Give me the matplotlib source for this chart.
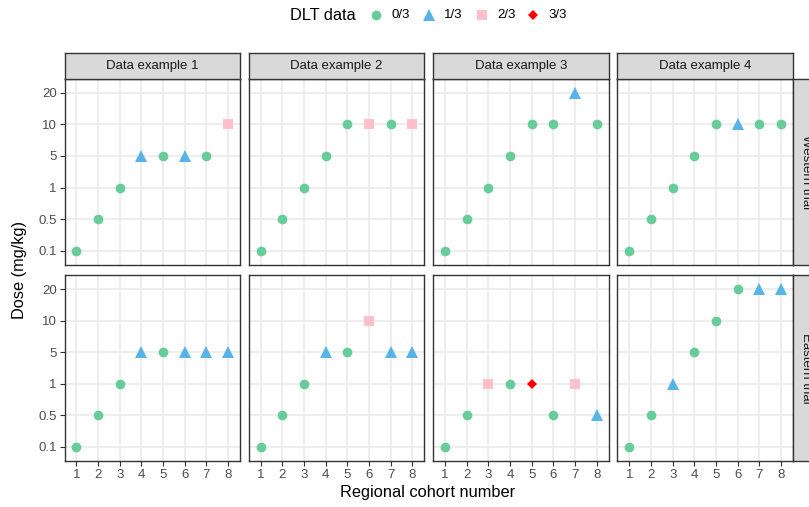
###### DLT dose escalation by regional cohort ########

import numpy as np
import matplotlib.pyplot as plt
from matplotlib.lines import Line2D

plt.rcParams['font.family'] = ['Liberation Sans', 'DejaVu Sans']

# Dose levels are shown as evenly spaced categories
dose_levels = ['0.1', '0.5', '1', '5', '10', '20']
cohorts = [1, 2, 3, 4, 5, 6, 7, 8]
examples = ['Data example 1', 'Data example 2', 'Data example 3', 'Data example 4']
trials = ['Western trial', 'Eastern trial']
dlt_labels = ['0/3', '1/3', '2/3', '3/3']

# Dose given to each cohort (one list per example)
western_dose = [
    ['0.1', '0.5', '1', '5', '5', '5', '5', '10'],
    ['0.1', '0.5', '1', '5', '10', '10', '10', '10'],
    ['0.1', '0.5', '1', '5', '10', '10', '20', '10'],
    ['0.1', '0.5', '1', '5', '10', '10', '10', '10'],
]
eastern_dose = [
    ['0.1', '0.5', '1', '5', '5', '5', '5', '5'],
    ['0.1', '0.5', '1', '5', '5', '10', '5', '5'],
    ['0.1', '0.5', '1', '1', '1', '0.5', '1', '0.5'],
    ['0.1', '0.5', '1', '5', '10', '20', '20', '20'],
]

# Number of DLTs observed out of 3 patients
western_dlt = [
    [0, 0, 0, 1, 0, 1, 0, 2],
    [0, 0, 0, 0, 0, 2, 0, 2],
    [0, 0, 0, 0, 0, 0, 1, 0],
    [0, 0, 0, 0, 0, 1, 0, 0],
]
eastern_dlt = [
    [0, 0, 0, 1, 0, 1, 1, 1],
    [0, 0, 0, 1, 0, 2, 1, 1],
    [0, 0, 2, 0, 3, 0, 2, 1],
    [0, 0, 1, 0, 0, 0, 1, 1],
]

# Marker style for each DLT count
colors = ['#66CC99', '#56B4E9', '#FFC0CB', '#FF0000']
markers = ['o', '^', 's', 'D']
sizes = [7.0, 8.3, 7.0, 5.0]

W, H = 809, 507
fig = plt.figure(figsize=(W / 100, H / 100), dpi=100)

def px_axes(x0, y0, x1, y1, **kw):
    # axes from pixel box (top-left origin)
    return fig.add_axes([x0 / W, 1 - y1 / H, (x1 - x0) / W, (y1 - y0) / H], **kw)

col_left = [64.5, 248.8, 433.1, 617.4]
col_w = 175.5
row_box = [(78.5, 265.0), (275.0, 461.0)]
border = '#333333'
small = 9.5
big = 11.8

for r, (doses, dlts) in enumerate([(western_dose, western_dlt), (eastern_dose, eastern_dlt)]):
    for c in range(4):
        y0, y1 = row_box[r]
        ax = px_axes(col_left[c], y0, col_left[c] + col_w, y1)
        ypos = [dose_levels.index(d) + 1 for d in doses[c]]
        for x, y, k in zip(cohorts, ypos, dlts[c]):
            ax.plot(x, y, marker=markers[k], color=colors[k], markersize=sizes[k],
                    markeredgewidth=0, linestyle='none', zorder=3)
        ax.set_xlim(0.45, 8.55)
        ax.set_ylim(0.54, 6.46)
        ax.set_xticks(cohorts)
        ax.set_yticks(range(1, 7))
        ax.grid(True, color='#EBEBEB', linewidth=1.2)
        ax.set_axisbelow(True)
        for s in ax.spines.values():
            s.set_color(border)
            s.set_linewidth(1.0)
        ax.tick_params(length=3.5, width=0.8, color=border, labelcolor='#4D4D4D',
                       labelsize=small, pad=2)
        if c == 0:
            ax.set_yticklabels(dose_levels)
        else:
            ax.tick_params(axis='y', length=0, labelleft=False)
        if r == 1:
            ax.set_xticklabels([str(v) for v in cohorts])
        else:
            ax.tick_params(axis='x', length=0, labelbottom=False)

        # column strip on top
        if r == 0:
            st = px_axes(col_left[c], 53.0, col_left[c] + col_w, 78.5)
            st.set_facecolor('#D9D9D9')
            st.set_xticks([]); st.set_yticks([])
            for s in st.spines.values():
                s.set_color(border)
                s.set_linewidth(1.0)
            st.text(0.5, 0.5, examples[c], ha='center', va='center',
                    fontsize=small, color='#1A1A1A', transform=st.transAxes)

    # row strip on the right (runs past the figure edge)
    y0, y1 = row_box[r]
    st = px_axes(793.0, y0, 818.5, y1)
    st.set_facecolor('#D9D9D9')
    st.set_xticks([]); st.set_yticks([])
    for s in st.spines.values():
        s.set_color(border)
        s.set_linewidth(1.0)
    st.text(0.5, 0.5, trials[r], ha='center', va='center', rotation=-90,
            fontsize=small, color='#1A1A1A', transform=st.transAxes)

# Axis titles
fig.text(20 / W, 1 - 270 / H, 'Dose (mg/kg)', rotation=90, ha='center', va='center',
         fontsize=big)
fig.text(428 / W, 1 - 492 / H, 'Regional cohort number', ha='center', va='center',
         fontsize=big)

# Legend across the top
fig.text(290 / W, 1 - 15 / H, 'DLT data', ha='left', va='center', fontsize=big)
key_x = [376, 429, 482, 533]
for k in range(4):
    fig.add_artist(Line2D([key_x[k] / W], [1 - 15 / H], marker=markers[k], color=colors[k],
                          markersize=sizes[k], markeredgewidth=0, linestyle='none',
                          transform=fig.transFigure))
    fig.text((key_x[k] + 15) / W, 1 - 15 / H, dlt_labels[k], ha='left', va='center',
             fontsize=small)

plt.savefig('out.png', dpi=100)
